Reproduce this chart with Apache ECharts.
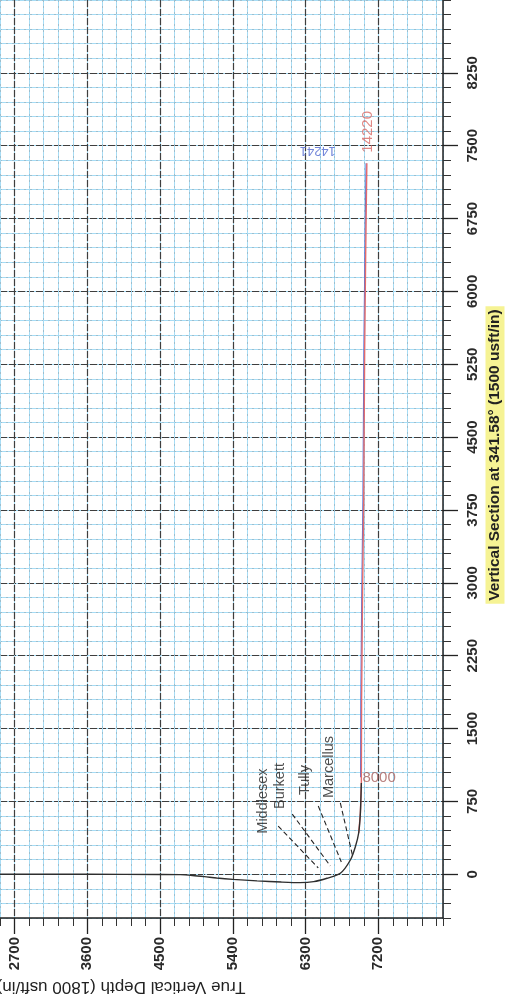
<!DOCTYPE html>
<html>
<head>
<meta charset="utf-8">
<script src="https://cdn.jsdelivr.net/npm/echarts@6/dist/echarts.min.js"></script>
<style>
html,body{margin:0;padding:0;background:#ffffff;}
#chart{width:507px;height:1004px;}
</style>
</head>
<body>
<div id="chart"></div>
<script>
// ---- axis ranges / tick labels ----
const tvdMin = 2520, tvdMax = 8000, tvdMinor = 180;
const vsMin = -450, vsMax = 9000, vsMinor = 150;
const tvdLabels = [2700, 3600, 4500, 5400, 6300, 7200];
const vsLabels = [0, 750, 1500, 2250, 3000, 3750, 4500, 5250, 6000, 6750, 7500, 8250];

// ---- well path (black): vertical + build ----
const wellTVD = [2520, 3600, 4500, 4750, 4900, 5050, 5200, 5400, 5700, 6000, 6230, 6400, 6565, 6730, 6854, 6916, 6957, 6978, 6990];
const wellVS  = [0,    0,    -2,   -4,   -12,  -24,  -38,  -52,  -68,  -80,  -86,  -76,  -41,  10,   147,  284,  425,  631,  940];

// ---- lateral, red path ----
const redTVD = [6957, 6978, 6990, 6993, 7004, 7019, 7031, 7044, 7052, 7058];
const redVS  = [425,  631,  940,  1800, 2820, 3850, 5400, 6420, 6940, 7320];

// ---- lateral, blue path ----
const blueTVD = [6980, 6983, 6994, 7009, 7021, 7034, 7042, 7048];
const blueVS  = [1000, 1800, 2820, 3850, 5400, 6420, 6940, 7320];

// ---- formation tops ----
const formationNames = ['Middlesex', 'Burkett', 'Tully', 'Marcellus'];
const formationLabelTVD = [5769, 5980, 6290, 6588];
const formationLabelVS  = [754,  909,  970,  1104];
const leaderStartTVD = [5961, 6135, 6457, 6730];
const leaderStartVS  = [497,  620,  703,  734];
const leaderEndTVD   = [6457, 6606, 6742, 6879];
const leaderEndVS    = [65,   86,   127,  199];

// ---- depth markers ----
const mdMarkText = ['8000'];
const mdMarkTVD = [7003];
const mdMarkVS = [991];
const redEndText = '14220', redEndTVD = 7071, redEndVS = 7643;
const blueEndText = '14241', blueEndTVD = 6451, blueEndVS = 7453;

const FONT = 'Liberation Sans, Arial, sans-serif';
const pairs = (a, b) => a.map((v, i) => [v, b[i]]);
const plain = v => String(v);

const chart = echarts.init(document.getElementById('chart'), null, {renderer: 'canvas'});

const baseX = {type: 'value', min: tvdMin, max: tvdMax, position: 'bottom', gridIndex: 0};
const baseY = {type: 'value', min: vsMin, max: vsMax, position: 'right', gridIndex: 0};

const option = {
  animation: false,
  backgroundColor: '#ffffff',
  grid: {left: 0, right: 64, top: 0, bottom: 86, show: false, containLabel: false, outerBoundsMode: 'none'},
  xAxis: [
    Object.assign({}, baseX, {
      interval: tvdMinor,
      axisLine: {show: true, onZero: false, lineStyle: {color: '#222', width: 1.5}},
      axisTick: {show: true, length: 8, lineStyle: {color: '#333', width: 1}},
      axisLabel: {show: false},
      splitLine: {show: true, lineStyle: {color: '#a6dcf5', width: 1, type: 'solid'}}
    }),
    Object.assign({}, baseX, {
      interval: tvdMinor,
      axisLine: {show: false, onZero: false},
      axisTick: {show: false},
      axisLabel: {show: false},
      splitLine: {show: true, lineStyle: {color: '#8a8a8a', width: 0.8, type: [2, 4], opacity: 0.45}}
    }),
    Object.assign({}, baseX, {
      axisLine: {show: false, onZero: false},
      axisTick: {show: true, length: 16, customValues: tvdLabels, lineStyle: {color: '#222', width: 1.3}},
      axisLabel: {show: true, customValues: tvdLabels, rotate: 90, margin: 19, formatter: plain,
        fontFamily: FONT, fontSize: 15, fontWeight: 'bold', color: '#2a2a2a'},
      splitLine: {show: true, lineStyle: {color: '#3e3e3e', width: 1.2, type: [7, 2]}}
    })
  ],
  yAxis: [
    Object.assign({}, baseY, {
      interval: vsMinor,
      axisLine: {show: true, onZero: false, lineStyle: {color: '#222', width: 1.5}},
      axisTick: {show: true, length: 8, lineStyle: {color: '#333', width: 1}},
      axisLabel: {show: false},
      splitLine: {show: true, lineStyle: {color: '#a6dcf5', width: 1, type: 'solid'}}
    }),
    Object.assign({}, baseY, {
      interval: vsMinor,
      axisLine: {show: false, onZero: false},
      axisTick: {show: false},
      axisLabel: {show: false},
      splitLine: {show: true, lineStyle: {color: '#8a8a8a', width: 0.8, type: [2, 4], opacity: 0.45}}
    }),
    Object.assign({}, baseY, {
      axisLine: {show: false, onZero: false},
      axisTick: {show: true, length: 15, customValues: vsLabels, lineStyle: {color: '#222', width: 1.3}},
      axisLabel: {show: true, customValues: vsLabels, rotate: 90, margin: 22, formatter: plain,
        fontFamily: FONT, fontSize: 15, fontWeight: 'bold', color: '#2a2a2a'},
      splitLine: {show: true, lineStyle: {color: '#3e3e3e', width: 1.2, type: [7, 2]}}
    })
  ],
  graphic: [
    {
      type: 'text', x: 121, y: 987, rotation: Math.PI,
      style: {text: 'True Vertical Depth (1800 usft/in)', font: '17px ' + FONT, fill: '#222',
        align: 'center', verticalAlign: 'middle'}
    },
    {
      type: 'text', x: 495, y: 455, rotation: Math.PI / 2,
      style: {text: 'Vertical Section at 341.58° (1500 usft/in)', font: 'bold 15.5px ' + FONT, fill: '#222',
        align: 'center', verticalAlign: 'middle', backgroundColor: '#f6f394', padding: [2, 3, 1, 3]}
    }
  ],
  series: [
    {
      type: 'line', name: 'blue path', data: pairs(blueTVD, blueVS), showSymbol: false,
      lineStyle: {color: '#5573d9', width: 1.1}, z: 3
    },
    {
      type: 'line', name: 'red path', data: pairs(redTVD, redVS), showSymbol: false,
      lineStyle: {color: '#e46b6b', width: 1.4}, z: 4
    },
    {
      type: 'line', name: 'well path', data: pairs(wellTVD, wellVS), showSymbol: false, smooth: 0.25,
      lineStyle: {color: '#2e2e2e', width: 1.4}, z: 5
    },
    {
      type: 'lines', coordinateSystem: 'cartesian2d', name: 'formation leaders',
      data: formationNames.map((n, i) => ({coords: [[leaderStartTVD[i], leaderStartVS[i]], [leaderEndTVD[i], leaderEndVS[i]]]})),
      lineStyle: {color: '#222', width: 1.1, type: [5, 3], opacity: 1}, z: 5
    },
    {
      type: 'scatter', name: 'formations', symbolSize: 0,
      data: formationNames.map((n, i) => ({name: n, value: [formationLabelTVD[i], formationLabelVS[i]]})),
      label: {show: true, position: 'inside', rotate: 90, formatter: '{b}', align: 'center', verticalAlign: 'middle',
        fontFamily: FONT, fontSize: 14.5, color: '#222'}, z: 6
    },
    {
      type: 'scatter', name: 'md marks', symbolSize: 0,
      data: mdMarkText.map((t, i) => ({name: t, value: [mdMarkTVD[i], mdMarkVS[i]]})),
      label: {show: true, position: 'right', distance: 0, formatter: '{b}',
        fontFamily: FONT, fontSize: 15, color: '#a8605e'}, z: 6
    },
    {
      type: 'scatter', name: 'red end', symbolSize: 0,
      data: [{name: redEndText, value: [redEndTVD, redEndVS]}],
      label: {show: true, position: 'inside', rotate: 90, formatter: '{b}', align: 'center', verticalAlign: 'middle',
        fontFamily: FONT, fontSize: 15, color: '#d86a66'}, z: 6
    },
    {
      type: 'scatter', name: 'blue end', symbolSize: 0,
      data: [{name: blueEndText, value: [blueEndTVD, blueEndVS]}],
      label: {show: true, position: 'inside', rotate: 180, formatter: '{b}', align: 'center', verticalAlign: 'middle',
        fontFamily: FONT, fontSize: 13, color: '#4f66d0'}, z: 6
    }
  ]
};
chart.setOption(option);
</script>
</body>
</html>
